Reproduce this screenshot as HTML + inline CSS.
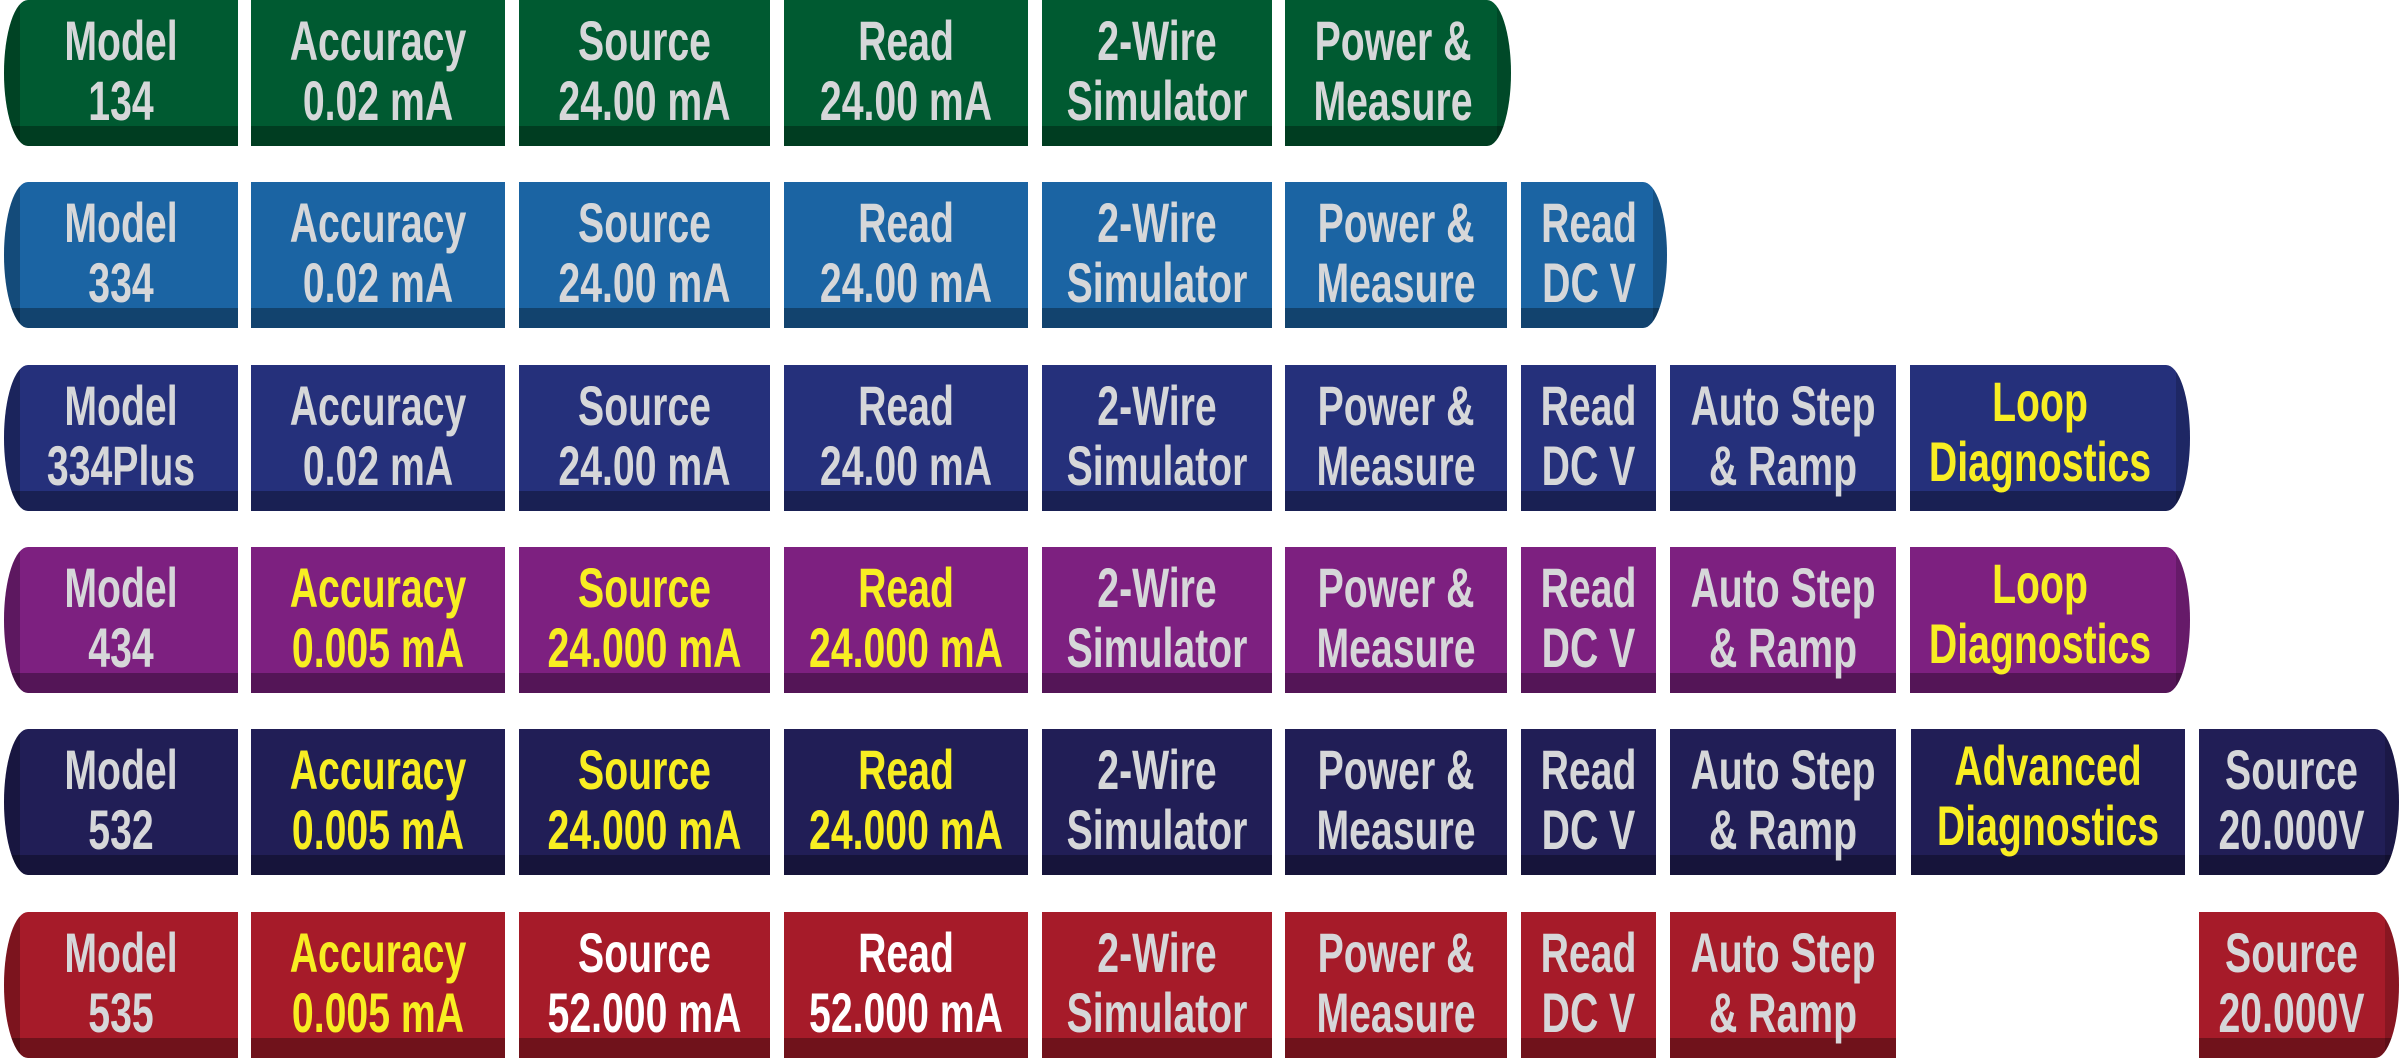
<!DOCTYPE html>
<html><head><meta charset="utf-8"><style>
html,body{margin:0;padding:0;background:#fff;}
body{width:2402px;height:1060px;position:relative;overflow:hidden;font-family:"Liberation Sans Narrow","Liberation Sans",sans-serif;font-weight:bold;}
.c{position:absolute;height:146px;box-sizing:border-box;overflow:hidden;}
.c::after{content:"";position:absolute;left:0;right:0;bottom:0;height:20px;background:rgba(0,0,0,0.32);}
.t{position:absolute;left:-40px;right:-40px;top:11px;text-align:center;line-height:60px;font-size:56px;color:#d6d7d9;transform:scaleX(0.70);white-space:nowrap;z-index:2;}
.y{color:#f8ee22;}
.w{color:#fff;}
.L{border-top-left-radius:24px 73px;border-bottom-left-radius:24px 73px;}
.L::before{content:"";position:absolute;left:0;top:0;bottom:0;width:16px;background:rgba(0,0,0,0.25);}
.R{border-top-right-radius:24px 73px;border-bottom-right-radius:24px 73px;}
.R::before{content:"";position:absolute;right:0;top:0;bottom:0;width:14px;background:rgba(0,0,0,0.18);}
.g{background:#005a31;} .b{background:#1b64a3;} .n{background:#25307b;} .p{background:#7d2080;} .d{background:#211e56;} .r{background:#a61b29;}
</style></head><body>
<!-- Row 1 -->
<div class="c g L" style="top:0;left:4px;width:234px"><div class="t">Model<br>134</div></div>
<div class="c g" style="top:0;left:251px;width:254px"><div class="t">Accuracy<br>0.02 mA</div></div>
<div class="c g" style="top:0;left:519px;width:251px"><div class="t">Source<br>24.00 mA</div></div>
<div class="c g" style="top:0;left:784px;width:244px"><div class="t">Read<br>24.00 mA</div></div>
<div class="c g" style="top:0;left:1042px;width:230px"><div class="t">2-Wire<br>Simulator</div></div>
<div class="c g R" style="top:0;left:1285px;width:226px"><div class="t" style="left:-50px">Power &amp;<br>Measure</div></div>
<!-- Row 2 -->
<div class="c b L" style="top:182px;left:4px;width:234px"><div class="t">Model<br>334</div></div>
<div class="c b" style="top:182px;left:251px;width:254px"><div class="t">Accuracy<br>0.02 mA</div></div>
<div class="c b" style="top:182px;left:519px;width:251px"><div class="t">Source<br>24.00 mA</div></div>
<div class="c b" style="top:182px;left:784px;width:244px"><div class="t">Read<br>24.00 mA</div></div>
<div class="c b" style="top:182px;left:1042px;width:230px"><div class="t">2-Wire<br>Simulator</div></div>
<div class="c b" style="top:182px;left:1285px;width:222px"><div class="t">Power &amp;<br>Measure</div></div>
<div class="c b R" style="top:182px;left:1521px;width:146px"><div class="t" style="right:-30px">Read<br>DC V</div></div>
<!-- Row 3 -->
<div class="c n L" style="top:365px;left:4px;width:234px"><div class="t">Model<br>334Plus</div></div>
<div class="c n" style="top:365px;left:251px;width:254px"><div class="t">Accuracy<br>0.02 mA</div></div>
<div class="c n" style="top:365px;left:519px;width:251px"><div class="t">Source<br>24.00 mA</div></div>
<div class="c n" style="top:365px;left:784px;width:244px"><div class="t">Read<br>24.00 mA</div></div>
<div class="c n" style="top:365px;left:1042px;width:230px"><div class="t">2-Wire<br>Simulator</div></div>
<div class="c n" style="top:365px;left:1285px;width:222px"><div class="t">Power &amp;<br>Measure</div></div>
<div class="c n" style="top:365px;left:1521px;width:135px"><div class="t">Read<br>DC V</div></div>
<div class="c n" style="top:365px;left:1670px;width:226px"><div class="t">Auto Step<br>&amp; Ramp</div></div>
<div class="c n R" style="top:365px;left:1910px;width:280px"><div class="t y" style="top:7px;left:-60px">Loop<br>Diagnostics</div></div>
<!-- Row 4 -->
<div class="c p L" style="top:547px;left:4px;width:234px"><div class="t">Model<br>434</div></div>
<div class="c p" style="top:547px;left:251px;width:254px"><div class="t y">Accuracy<br>0.005 mA</div></div>
<div class="c p" style="top:547px;left:519px;width:251px"><div class="t y">Source<br>24.000 mA</div></div>
<div class="c p" style="top:547px;left:784px;width:244px"><div class="t y">Read<br>24.000 mA</div></div>
<div class="c p" style="top:547px;left:1042px;width:230px"><div class="t">2-Wire<br>Simulator</div></div>
<div class="c p" style="top:547px;left:1285px;width:222px"><div class="t">Power &amp;<br>Measure</div></div>
<div class="c p" style="top:547px;left:1521px;width:135px"><div class="t">Read<br>DC V</div></div>
<div class="c p" style="top:547px;left:1670px;width:226px"><div class="t">Auto Step<br>&amp; Ramp</div></div>
<div class="c p R" style="top:547px;left:1910px;width:280px"><div class="t y" style="top:7px;left:-60px">Loop<br>Diagnostics</div></div>
<!-- Row 5 -->
<div class="c d L" style="top:729px;left:4px;width:234px"><div class="t">Model<br>532</div></div>
<div class="c d" style="top:729px;left:251px;width:254px"><div class="t y">Accuracy<br>0.005 mA</div></div>
<div class="c d" style="top:729px;left:519px;width:251px"><div class="t y">Source<br>24.000 mA</div></div>
<div class="c d" style="top:729px;left:784px;width:244px"><div class="t y">Read<br>24.000 mA</div></div>
<div class="c d" style="top:729px;left:1042px;width:230px"><div class="t">2-Wire<br>Simulator</div></div>
<div class="c d" style="top:729px;left:1285px;width:222px"><div class="t">Power &amp;<br>Measure</div></div>
<div class="c d" style="top:729px;left:1521px;width:135px"><div class="t">Read<br>DC V</div></div>
<div class="c d" style="top:729px;left:1670px;width:226px"><div class="t">Auto Step<br>&amp; Ramp</div></div>
<div class="c d" style="top:729px;left:1911px;width:274px"><div class="t y" style="top:7px">Advanced<br>Diagnostics</div></div>
<div class="c d R" style="top:729px;left:2199px;width:200px"><div class="t" style="left:-55px">Source<br>20.000V</div></div>
<!-- Row 6 -->
<div class="c r L" style="top:912px;left:4px;width:234px"><div class="t">Model<br>535</div></div>
<div class="c r" style="top:912px;left:251px;width:254px"><div class="t y">Accuracy<br>0.005 mA</div></div>
<div class="c r" style="top:912px;left:519px;width:251px"><div class="t w">Source<br>52.000 mA</div></div>
<div class="c r" style="top:912px;left:784px;width:244px"><div class="t w">Read<br>52.000 mA</div></div>
<div class="c r" style="top:912px;left:1042px;width:230px"><div class="t">2-Wire<br>Simulator</div></div>
<div class="c r" style="top:912px;left:1285px;width:222px"><div class="t">Power &amp;<br>Measure</div></div>
<div class="c r" style="top:912px;left:1521px;width:135px"><div class="t">Read<br>DC V</div></div>
<div class="c r" style="top:912px;left:1670px;width:226px"><div class="t">Auto Step<br>&amp; Ramp</div></div>
<div class="c r R" style="top:912px;left:2199px;width:200px"><div class="t" style="left:-55px">Source<br>20.000V</div></div>
</body></html>
